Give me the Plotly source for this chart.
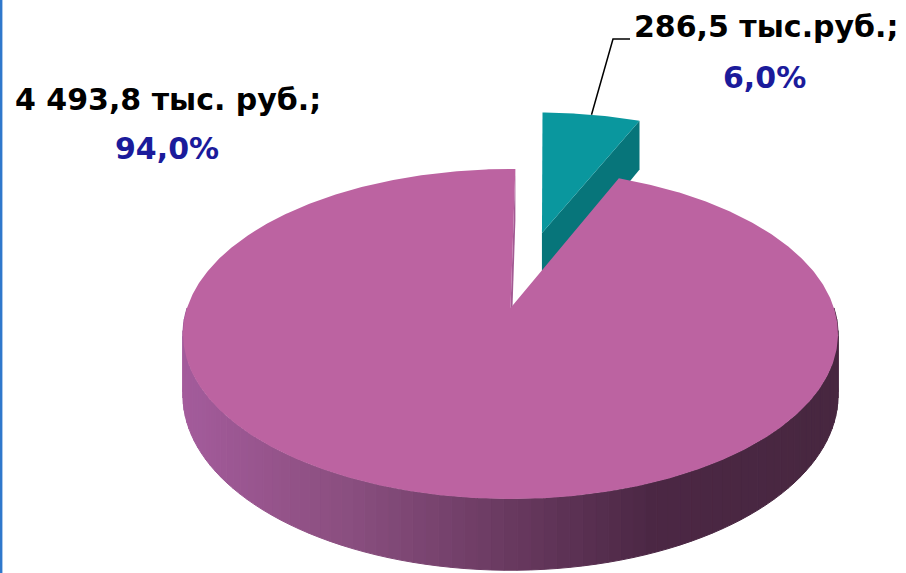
import numpy as np
import plotly.graph_objects as go

# ---------------- data ----------------
values = [286.5, 4493.8]
value_texts = ["286,5 тыс.руб.;", "4 493,8 тыс. руб.;"]
top_colors = ["#0a979e", "#bc63a1"]
face_colors = ["#07757a", "#a35a93"]
pulls = [0.514, 0.0]

# ---------------- geometry (3D pie, perspective) ----------------
W, H_PX = 906, 573
ECX, ECY = 510.5, 334.0      # centre of top ellipse on screen
RX, RY = 327.5, 165.0        # semi-axes of top ellipse
K = 0.158                    # perspective strength
DEPTH = 60.0                 # thickness at mid depth
ROT = 1.0                    # first slice angle (deg, clockwise from top)
A = RX * np.sqrt(1 - K ** 2)
SY = RY * (1 - K ** 2)


def proj(X, Y, z=0.0):
    s = 1.0 / (1.0 + K * Y)
    x = ECX + A * X * s
    y = ECY - SY * (Y * s + K / (1 - K ** 2)) + z * DEPTH * s
    return x, y


def rim(theta, off, z=0.0):
    t = np.radians(theta)
    return proj(off[0] + np.sin(t), off[1] + np.cos(t), z)


def side_color(x):
    xs = [183, 300, 350, 500, 650, 838]
    cs = [(164, 92, 156), (146, 82, 135), (138, 79, 128),
          (107, 59, 98), (76, 40, 69), (72, 39, 64)]
    r = np.interp(x, xs, [c[0] for c in cs])
    g = np.interp(x, xs, [c[1] for c in cs])
    b = np.interp(x, xs, [c[2] for c in cs])
    return f"rgb({int(r)},{int(g)},{int(b)})"


total = sum(values)
fracs = [v / total for v in values]
starts = [ROT + 360 * sum(fracs[:i]) for i in range(len(values))]
ends = [s + 360 * f for s, f in zip(starts, fracs)]

fig = go.Figure()


def poly(xs, ys, color, lw=0):
    fig.add_trace(go.Scatter(
        x=list(xs) + [xs[0]], y=list(ys) + [ys[0]], mode="lines",
        fill="toself", fillcolor=color,
        line=dict(color=color, width=lw), hoverinfo="skip", showlegend=False))


slices = []
for i in range(len(values)):
    mid = np.radians((starts[i] + ends[i]) / 2)
    off = (pulls[i] * np.sin(mid), pulls[i] * np.cos(mid))
    slices.append(off)

# draw back (exploded small) slice first, then big slice
for i in range(len(values)):
    off = slices[i]
    s, e = starts[i], ends[i]
    # outer side strips (front half only)
    lo, hi = max(s, 90), min(e, 270)
    if hi > lo:
        th = np.linspace(lo, hi, int((hi - lo) / 2) + 2)
        for a, b in zip(th[:-1], th[1:]):
            x1, y1 = rim(a, off)
            x2, y2 = rim(b, off)
            x3, y3 = rim(b, off, 1)
            x4, y4 = rim(a, off, 1)
            poly([x1, x2, x3, x4], [y1, y2, y3, y4],
                 side_color((x1 + x2) / 2), lw=1)
    cx0, cy0 = proj(off[0], off[1], 0)
    cx1, cy1 = proj(off[0], off[1], 1)
    # cut face at end angle (faces viewer when sin>0)
    if np.sin(np.radians(e)) > 0:
        x1, y1 = rim(e, off)
        x2, y2 = rim(e, off, 1)
        poly([cx0, x1, x2, cx1], [cy0, y1, y2, cy1], face_colors[i])
    # cut face at start angle
    if -np.sin(np.radians(s)) > 0:
        x1, y1 = rim(s, off)
        x2, y2 = rim(s, off, 1)
        poly([cx0, x1, x2, cx1], [cy0, y1, y2, cy1], face_colors[i])
    # top face
    th = np.linspace(s, e, int((e - s) * 2) + 2)
    pts = [rim(t, off) for t in th]
    poly([cx0] + [p[0] for p in pts], [cy0] + [p[1] for p in pts], top_colors[i])

# ---------------- labels ----------------
pct = [f"{f * 100:.1f}".replace(".", ",") + "%" for f in fracs]
FONT = "DejaVu Sans"
label_pos = [((766, 26), (764, 77)), ((168, 99), (167, 148))]
anns = []
for i in range(len(values)):
    (vx, vy), (px, py) = label_pos[i]
    anns.append(dict(x=vx, y=vy, xref="x", yref="y", text=f"<b>{value_texts[i]}</b>",
                     showarrow=False, xanchor="center", yanchor="middle",
                     font=dict(family=FONT, size=30, color="#000000")))
    anns.append(dict(x=px, y=py, xref="x", yref="y", text=f"<b>{pct[i]}</b>",
                     showarrow=False, xanchor="center", yanchor="middle",
                     font=dict(family=FONT, size=30, color="#1b1b9b")))

# leader line from small slice rim
mid0 = (starts[0] + ends[0]) / 2
lx, ly = rim(mid0, slices[0])
shapes = [
    dict(type="path", xref="x", yref="y",
         path=f"M {lx:.1f} {ly:.1f} L 613 39 L 630 39",
         line=dict(color="#000000", width=1.5)),
    dict(type="line", xref="paper", yref="paper", x0=0.001, x1=0.001, y0=0, y1=1,
         line=dict(color="#2f78cc", width=3)),
]

fig.update_layout(
    width=W, height=H_PX, autosize=False,
    margin=dict(l=0, r=0, t=0, b=0),
    paper_bgcolor="#ffffff", plot_bgcolor="#ffffff",
    xaxis=dict(range=[0, W], visible=False, fixedrange=True),
    yaxis=dict(range=[H_PX, 0], visible=False, fixedrange=True),
    annotations=anns, shapes=shapes, showlegend=False,
)

fig.write_html("out.html", config={"displayModeBar": False},
               post_script="document.body.style.margin='0px';document.body.style.overflow='hidden';")
